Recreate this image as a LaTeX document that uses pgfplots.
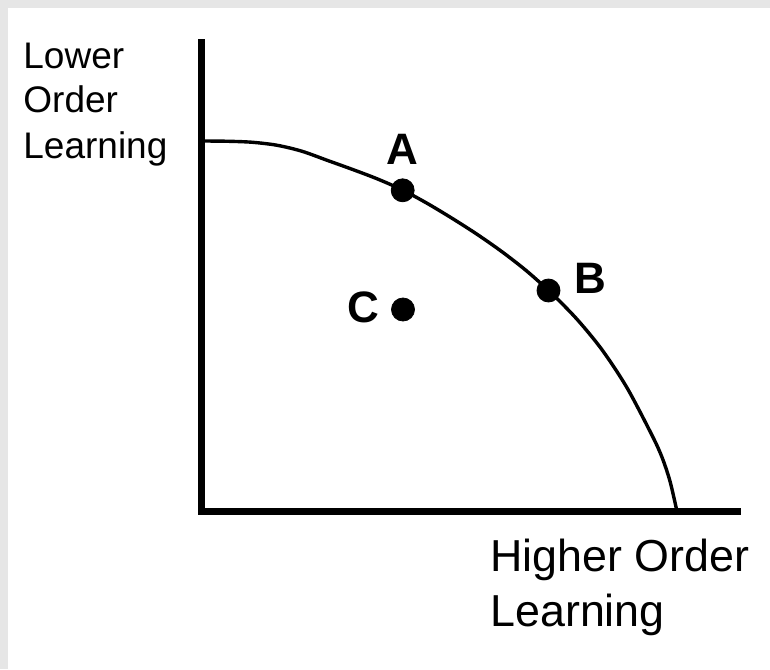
\documentclass[border=0pt]{standalone}
\usepackage{pgfplots}
\pgfplotsset{compat=1.18}
\usepackage{fontspec}
\setmainfont{Liberation Sans}
\definecolor{framegray}{HTML}{E6E6E6}

\begin{document}
\begin{tikzpicture}
\begin{axis}[
  scale only axis,
  width=269.5pt, height=236pt,
  xmin=0, xmax=539,
  ymin=0, ymax=472,
  hide axis,
  clip=false,
]

% page frame: grey strip on top and left
\fill[framegray] (axis cs:-202,511.5) rectangle (axis cs:568,-157.5);
\fill[white] (axis cs:-194,503.5) rectangle (axis cs:568,-157.5);

% axes
\draw[line width=3.5pt, line join=miter] (axis cs:0,472) -- (axis cs:0,0) -- (axis cs:539,0);

% production possibilities curve
\addplot[line width=1.7pt, smooth, mark=none] coordinates {
  (0,370.5) (25,370.25) (50,369.25) (75,366.25) (100,360.25) (125,351.25)
  (150,342.25) (175,332.75) (200,321.75) (225,308.25) (250,293.25)
  (275,277.25) (300,259.75) (325,240.25) (350,217.75) (375,192.25)
  (400,161.75) (425,123.75) (450,76.25) (460,54.25) (468,30.25) (475,0)
};

% points A, B, C
\addplot[only marks, mark=*, mark size=5.75pt, black] coordinates {
  (200.7,321.2) (346.5,221) (201,202)
};

\node[font=\fontsize{22pt}{26pt}\selectfont\bfseries, anchor=base, inner sep=0]
  at (axis cs:200.5,346.5) {A};
\node[font=\fontsize{22pt}{26pt}\selectfont\bfseries, anchor=base, inner sep=0]
  at (axis cs:388,218.5) {B};
\node[font=\fontsize{22pt}{26pt}\selectfont\bfseries, anchor=base, inner sep=0]
  at (axis cs:161.5,189) {C};

% axis labels
\node[font=\fontsize{18.5pt}{22pt}\selectfont, anchor=base west, inner sep=0]
  at (axis cs:-179,443.2) {Lower};
\node[font=\fontsize{18.5pt}{22pt}\selectfont, anchor=base west, inner sep=0]
  at (axis cs:-179,398.5) {Order};
\node[font=\fontsize{18.5pt}{22pt}\selectfont, anchor=base west, inner sep=0]
  at (axis cs:-179,353.2) {Learning};

\node[font=\fontsize{22.4pt}{27pt}\selectfont, anchor=base west, inner sep=0]
  at (axis cs:288,-60.2) {Higher Order};
\node[font=\fontsize{22.4pt}{27pt}\selectfont, anchor=base west, inner sep=0]
  at (axis cs:288,-114.5) {Learning};

\end{axis}
\end{tikzpicture}
\end{document}
